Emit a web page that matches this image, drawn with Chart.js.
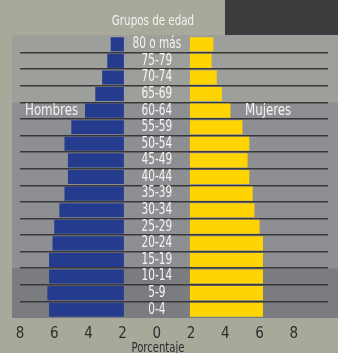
<!DOCTYPE html>
<html lang="es">
<head>
<meta charset="utf-8">
<script src="https://cdn.jsdelivr.net/npm/chart.js@4.4.1/dist/chart.umd.min.js"></script>
<style>
  html, body { margin: 0; padding: 0; background: #a9a99b; overflow: hidden; }
  canvas { display: block; }
</style>
</head>
<body>
<canvas id="pyramid" width="338" height="353"></canvas>
<script>
// grupos de edad, de arriba hacia abajo
const ageGroups = ["80 o más", "75-79", "70-74", "65-69", "60-64", "55-59", "50-54", "45-49",
    "40-44", "35-39", "30-34", "25-29", "20-24", "15-19", "10-14", "5-9", "0-4"];
const hombres = [2.7, 2.9, 3.2, 3.6, 4.2, 5.0, 5.4, 5.2, 5.2, 5.4, 5.7, 6.0, 6.1, 6.3, 6.3, 6.4, 6.3];
const mujeres = [3.3, 3.2, 3.5, 3.8, 4.3, 5.0, 5.4, 5.3, 5.4, 5.6, 5.7, 6.0, 6.2, 6.2, 6.2, 6.2, 6.2];
const tickValues = [-8, -6, -4, -2, 0, 2, 4, 6, 8];
const GAP = 1.93; // hueco central para las etiquetas

const FONT = "'DejaVu Sans Condensed', 'Liberation Sans Narrow', sans-serif";

// texto estrechado (la fuente original es condensada)
function narrowText(ctx, text, x, y, size, squeeze, align) {
    ctx.save();
    ctx.font = size + "px " + FONT;
    ctx.textAlign = align;
    ctx.textBaseline = "middle";
    ctx.translate(x, y);
    ctx.scale(squeeze, 1);
    ctx.fillText(text, 0, 0);
    ctx.restore();
}

const backdrop = {
    id: "backdrop",
    beforeDraw(chart) {
        const { ctx, chartArea: a, scales: { y } } = chart;
        const edge = i => (y.getPixelForTick(i - 1) + y.getPixelForTick(i)) / 2;
        ctx.save();
        // caja oscura arriba a la derecha
        ctx.fillStyle = "#3c3c3e";
        ctx.fillRect(225, 0, chart.width - 225, a.top - 1);
        // bandas del panel
        const left = a.left - 8, w = chart.width - left;
        const b1 = edge(4), b2 = edge(14);
        ctx.fillStyle = "#9d9f9b";
        ctx.fillRect(left, a.top - 1, w, b1 - a.top + 1);
        ctx.fillStyle = "#8e8f93";
        ctx.fillRect(left, b1, w, b2 - b1);
        ctx.fillStyle = "#7b7c80";
        ctx.fillRect(left, b2, w, a.bottom - b2);
        // títulos
        ctx.fillStyle = "#f2f2ef";
        narrowText(ctx, "Grupos de edad", 153, 21, 14, 0.82, "center");
        ctx.fillStyle = "#2e2e2e";
        narrowText(ctx, "Porcentaje", 158, 348, 14, 0.8, "center");
        ctx.restore();
    },
    afterDatasetsDraw(chart) {
        const { ctx, chartArea: a, scales: { x, y } } = chart;
        ctx.save();
        ctx.fillStyle = "#f4f4f2";
        const cx = x.getPixelForValue(0);
        ageGroups.forEach((g, i) => narrowText(ctx, g, cx, y.getPixelForTick(i), 15, 0.78, "center"));
        narrowText(ctx, "Hombres", a.left + 5, y.getPixelForTick(4), 16, 0.82, "left");
        narrowText(ctx, "Mujeres", a.right - 83, y.getPixelForTick(4), 16, 0.82, "left");
        ctx.restore();
    }
};

new Chart(document.getElementById("pyramid"), {
    type: "bar",
    data: {
        labels: ageGroups,
        datasets: [
            {
                label: "Hombres",
                data: hombres.map(v => [-GAP, -v]),
                backgroundColor: "#253c8e",
                grouped: false,
                barPercentage: 0.85,
                categoryPercentage: 1
            },
            {
                label: "Mujeres",
                data: mujeres.map(v => [GAP, v]),
                backgroundColor: "#ffd400",
                grouped: false,
                barPercentage: 0.85,
                categoryPercentage: 1
            }
        ]
    },
    options: {
        indexAxis: "y",
        responsive: false,
        animation: false,
        layout: { padding: { left: 20, right: 10, top: 36, bottom: 0 } },
        plugins: { legend: { display: false }, tooltip: { enabled: false } },
        scales: {
            x: {
                min: -8,
                max: 10,
                afterBuildTicks: s => { s.ticks = tickValues.map(v => ({ value: v })); },
                afterFit: s => { s.height = 35; },
                grid: { display: false, drawTicks: false },
                border: { display: false },
                ticks: {
                    padding: 7,
                    color: "#2e2e2e",
                    font: { family: FONT, size: 15 },
                    maxRotation: 0,
                    callback: v => Math.abs(v)
                }
            },
            y: {
                type: "category",
                offset: true,
                afterFit: s => { s.width = 0; },
                grid: {
                    offset: true,
                    drawTicks: false,
                    lineWidth: 1.5,
                    color: c => (c.type === "tick" && c.index > 0) ? "#38383a" : "rgba(0,0,0,0)"
                },
                border: { display: false },
                ticks: { display: false }
            }
        }
    },
    plugins: [backdrop]
});
</script>
</body>
</html>
